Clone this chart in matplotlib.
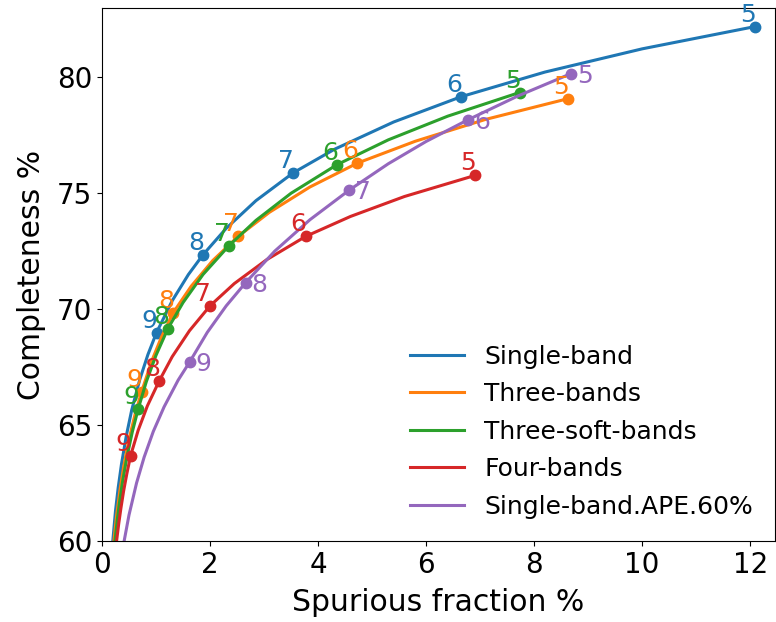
import matplotlib
matplotlib.use("Agg")
import matplotlib.pyplot as plt

# threshold labels shown next to the marked points
thresholds = ['5', '6', '7', '8', '9']
series_names = ['Single-band', 'Three-bands', 'Three-soft-bands', 'Four-bands',
                'Single-band.APE.60%']

# marked points (thresholds 5..9)
single_px = [12.09, 6.65, 3.54, 1.87, 1.01]
single_py = [82.16, 79.14, 75.86, 72.33, 68.98]
three_px = [8.62, 4.73, 2.52, 1.32, 0.735]
three_py = [79.05, 76.28, 73.12, 69.84, 66.44]
soft_px = [7.73, 4.35, 2.35, 1.22, 0.67]
soft_py = [79.32, 76.21, 72.72, 69.15, 65.69]
four_px = [6.91, 3.77, 2.00, 1.06, 0.53]
four_py = [75.75, 73.12, 70.13, 66.90, 63.68]
ape_px = [8.68, 6.78, 4.58, 2.66, 1.62]
ape_py = [80.13, 78.15, 75.12, 71.13, 67.70]

# curves: marked points plus points in between
single_x = [12.09, 10.0, 8.2, 6.65, 5.4, 4.3, 3.54, 2.85, 2.3, 1.87, 1.6, 1.3, 1.01,
            0.85, 0.7, 0.55, 0.45, 0.36, 0.3, 0.25, 0.2]
single_y = [82.16, 81.20, 80.20, 79.14, 78.05, 76.87, 75.86, 74.66, 73.47, 72.33, 71.48, 70.35, 68.98,
            68.03, 66.96, 65.64, 64.53, 63.30, 62.30, 61.30, 60.0]
three_x = [8.62, 7.1, 5.8, 4.73, 3.85, 3.1, 2.52, 2.05, 1.65, 1.32, 1.1, 0.92, 0.735,
           0.62, 0.5, 0.4, 0.33, 0.27, 0.22]
three_y = [79.05, 78.16, 77.22, 76.28, 75.25, 74.16, 73.12, 72.08, 70.97, 69.84, 68.78, 67.75, 66.44,
           65.53, 64.38, 63.19, 62.16, 61.09, 60.0]
soft_x = [7.73, 6.4, 5.3, 4.35, 3.5, 2.85, 2.35, 1.87, 1.5, 1.22, 1.0, 0.82, 0.67,
          0.56, 0.46, 0.38, 0.32, 0.28, 0.24]
soft_y = [79.32, 78.30, 77.28, 76.21, 74.98, 73.81, 72.72, 71.48, 70.27, 69.15, 68.00, 66.86, 65.69,
          64.69, 63.60, 62.54, 61.60, 60.85, 60.0]
four_x = [6.91, 5.6, 4.6, 3.77, 3.05, 2.45, 2.00, 1.62, 1.3, 1.06, 0.84, 0.67, 0.53,
          0.46, 0.4, 0.35, 0.31, 0.27]
four_y = [75.75, 74.84, 73.98, 73.12, 72.12, 71.09, 70.13, 69.06, 67.94, 66.90, 65.82, 64.77, 63.68,
          62.90, 62.15, 61.41, 60.75, 60.0]
ape_x = [8.68, 7.7, 6.78, 6.0, 5.3, 4.58, 3.85, 3.2, 2.66, 2.3, 1.95, 1.62,
         1.41, 1.15, 0.95, 0.78, 0.64, 0.5, 0.41]
ape_y = [80.13, 79.17, 78.15, 77.21, 76.25, 75.12, 73.84, 72.49, 71.13, 70.13, 68.99, 67.70,
         66.93, 65.78, 64.72, 63.61, 62.50, 61.12, 60.0]

curves = [(single_x, single_y, single_px, single_py),
          (three_x, three_y, three_px, three_py),
          (soft_x, soft_y, soft_px, soft_py),
          (four_x, four_y, four_px, four_py),
          (ape_x, ape_y, ape_px, ape_py)]
colors = ['C0', 'C1', 'C2', 'C3', 'C4']

fig = plt.figure(figsize=(7.76, 6.22), dpi=100)
ax = fig.add_axes([102 / 776, 81 / 622, 673 / 776, 533 / 622])

for i, (cx, cy, px, py) in enumerate(curves):
    ax.plot(cx, cy, color=colors[i], linewidth=2.2, label=series_names[i])
    ax.plot(px, py, 'o', color=colors[i], markersize=7.5)
    for lab, x, y in zip(thresholds, px, py):
        if i == 4:
            # purple labels sit to the right of the dots
            ax.annotate(lab, (x, y), xytext=(6, -2), textcoords='offset pixels',
                        ha='left', va='center', color=colors[i], fontsize=18)
        else:
            ax.annotate(lab, (x, y), xytext=(-7, 0), textcoords='offset pixels',
                        ha='center', va='bottom', color=colors[i], fontsize=18)

ax.set_xlim(0, 12.46)
ax.set_ylim(60, 82.96)
ax.set_xticks([0, 2, 4, 6, 8, 10, 12])
ax.set_yticks([60, 65, 70, 75, 80])
ax.tick_params(labelsize=20)
ax.set_xlabel('Spurious fraction %', fontsize=21.5, labelpad=7)
ax.set_ylabel('Completeness %', fontsize=21.5, labelpad=7.5)

ax.legend(loc='upper left', bbox_to_anchor=(0.4994, 0.4823), bbox_transform=fig.transFigure,
          frameon=False, fontsize=18, handlelength=2.16, labelspacing=0.54)

fig.savefig('out.png', dpi=100)
